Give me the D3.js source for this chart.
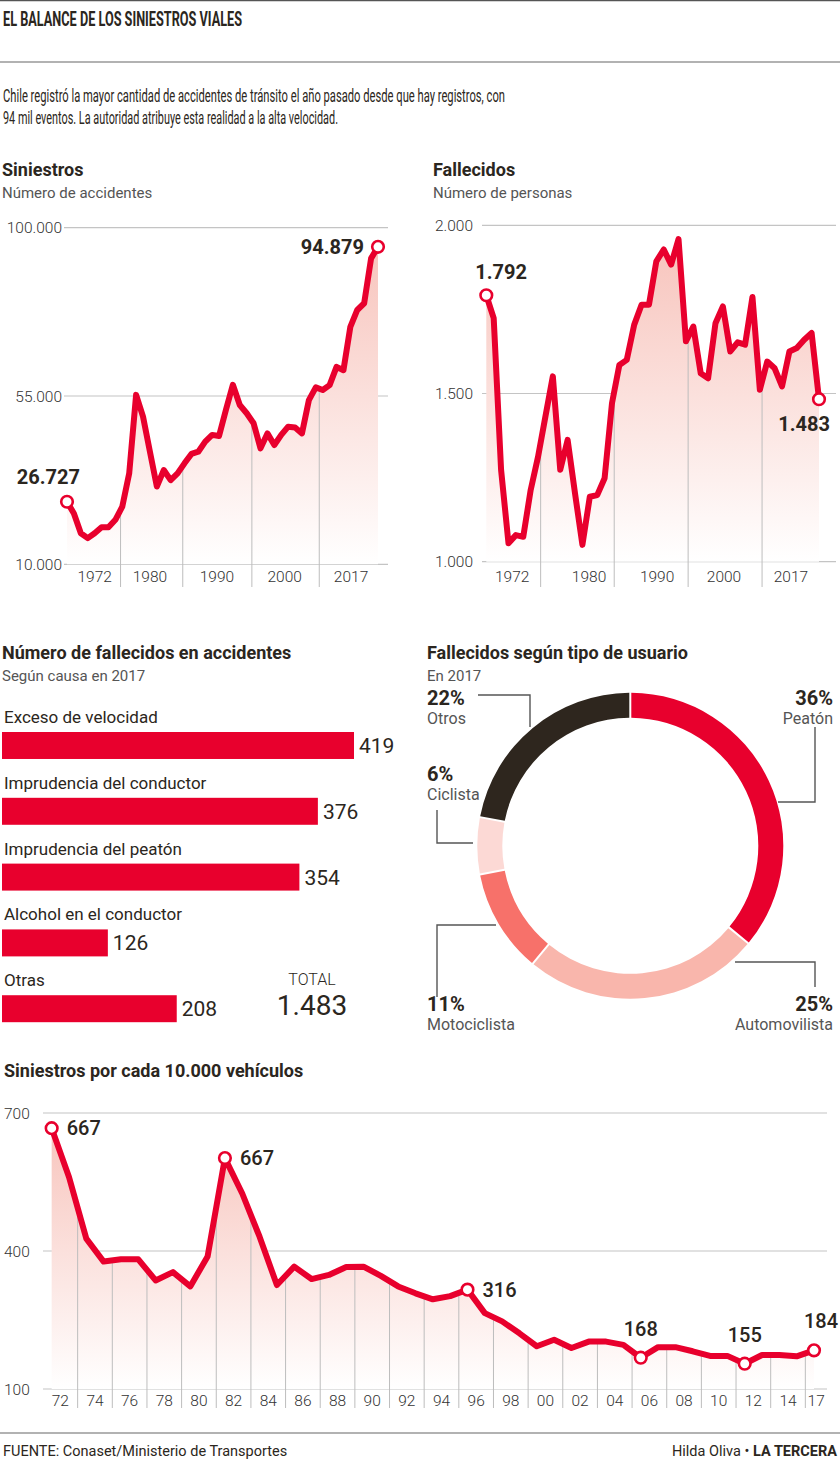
<!DOCTYPE html>
<html><head><meta charset="utf-8">
<script src="https://cdn.jsdelivr.net/npm/d3@7"></script>
<style>
body{margin:0;background:#fff;}
svg{display:block;font-family:Roboto,"Noto Sans",sans-serif;}
</style>
</head><body>
<svg id="c" width="840" height="1461"></svg>
<script>
// ---------------- DATA ----------------
const years = ["1972","1973","1974","1975","1976","1977","1978","1979","1980","1981","1982","1983","1984","1985","1986","1987","1988","1989","1990","1991","1992","1993","1994","1995","1996","1997","1998","1999","2000","2001","2002","2003","2004","2005","2006","2007","2008","2009","2010","2011","2012","2013","2014","2015","2016","2017"];
const siniestros = [26727,23600,18300,17000,18300,19900,19900,21900,25400,34300,55300,49500,40100,30800,35200,32500,34300,37000,39500,40100,42800,44600,44300,51300,58000,52600,50400,47700,41000,45000,41900,44600,46800,46600,45000,53900,57300,56600,57900,62800,61900,73500,78000,79800,91800,94879];
const fallecidos = [1792,1724,1273,1055,1079,1074,1213,1312,1432,1551,1273,1362,1203,1050,1193,1198,1248,1471,1585,1600,1704,1764,1764,1893,1928,1883,1959,1655,1699,1560,1545,1709,1759,1625,1652,1645,1787,1511,1595,1575,1521,1625,1635,1660,1680,1483];
const sinTicks = [10000,55000,100000];
const fallTicks = [1000,1500,2000];
const sinAxisLabels = ["1972","1980","1990","2000","2017"];
const sinAxisAt = [1976,1984,1993.7,2003.5,2013.1];
const sinSeparators = [1979.75,1988.75,1998.75,2008.5];
const fallAxisLabels = ["1972","1980","1990","2000","2017"];
const fallAxisAt = [1975.5,1985.9,1995.1,2004.15,2013.2];
const fallSeparators = [1979.35,1989.3,1999.3,2009.3];

const causas = ["Exceso de velocidad","Imprudencia del conductor","Imprudencia del peatón","Alcohol en el conductor","Otras"];
const causasValores = [419,376,354,126,208];
const causasTotal = "1.483";

const usuarios = ["Peatón","Automovilista","Motociclista","Ciclista","Otros"];
const usuariosPct = [36,25,11,6,22];
const usuariosColores = ["#e8002d","#f9b6ac","#f7716a","#fcd9d5","#2e261e"];

const tasaYears = ["1972","1973","1974","1975","1976","1977","1978","1979","1980","1981","1982","1983","1984","1985","1986","1987","1988","1989","1990","1991","1992","1993","1994","1995","1996","1997","1998","1999","2000","2001","2002","2003","2004","2005","2006","2007","2008","2009","2010","2011","2012","2013","2014","2015","2017"];
const tasa = [667,561,427,377,382,382,336,354,323,388,602,525,431,326,366,339,348,365,366,346,323,308,295,302,316,265,247,221,193,207,189,203,203,196,168,191,191,182,172,172,155,174,174,171,184];
const tasaTicks = [100,400,700];
const tasaAxisLabels = ["72","74","76","78","80","82","84","86","88","90","92","94","96","98","00","02","04","06","08","10","12","14","17"];
const tasaAnnot = [{y:"1972",t:"667",pos:"right"},{y:"1982",t:"667",pos:"right"},{y:"1996",t:"316",pos:"right"},{y:"2006",t:"168",pos:"top"},{y:"2012",t:"155",pos:"top"},{y:"2017",t:"184",pos:"top"}];

// ---------------- SETUP ----------------
const RED = "#e8002d", DARK = "#2b2620", GRAY = "#555", GRID = "#c4c4c4";
const svg = d3.select("#c");
svg.append("rect").attr("width",840).attr("height",1461).attr("fill","#fff");
const fmt = d3.formatLocale({decimal:",",thousands:".",grouping:[3],currency:["",""]}).format(",");
const defs = svg.append("defs");
function grad(id,y1,y2){
  const g = defs.append("linearGradient").attr("id",id).attr("gradientUnits","userSpaceOnUse")
    .attr("x1",0).attr("x2",0).attr("y1",y1).attr("y2",y2);
  g.append("stop").attr("offset",0).attr("stop-color","#f7c1b9");
  g.append("stop").attr("offset",1).attr("stop-color","#ffffff");
}

// header
svg.append("line").attr("x1",0).attr("x2",840).attr("y1",0.5).attr("y2",0.5).attr("stroke","#555").attr("stroke-width",1.5);
svg.append("text").attr("x",3).attr("y",26).attr("font-size",20).attr("font-weight",700).attr("fill",DARK)
  .attr("textLength",239).attr("lengthAdjust","spacingAndGlyphs").text("EL BALANCE DE LOS SINIESTROS VIALES");
svg.append("line").attr("x1",0).attr("x2",840).attr("y1",62).attr("y2",62).attr("stroke","#999").attr("stroke-width",1.5);
svg.append("text").attr("x",3).attr("y",102).attr("font-size",18).attr("fill",DARK)
  .attr("textLength",502).attr("lengthAdjust","spacingAndGlyphs")
  .text("Chile registró la mayor cantidad de accidentes de tránsito el año pasado desde que hay registros, con");
svg.append("text").attr("x",3).attr("y",124).attr("font-size",18).attr("fill",DARK)
  .attr("textLength",335).attr("lengthAdjust","spacingAndGlyphs")
  .text("94 mil eventos. La autoridad atribuye esta realidad a la alta velocidad.");

function sectionTitle(x,y,t,sub){
  svg.append("text").attr("x",x).attr("y",y).attr("font-size",18).attr("font-weight",700).attr("fill",DARK).text(t);
  if(sub) svg.append("text").attr("x",x).attr("y",y+22).attr("font-size",15).attr("fill",GRAY).text(sub);
}

function interp(vals, pos){
  const i = Math.max(0,Math.min(vals.length-2,Math.floor(pos)));
  const t = pos - i;
  return vals[i]*(1-t) + vals[i+1]*t;
}

// ---------------- TIME CHART ----------------
function timeChart(o){
  const g = svg.append("g");
  const x = o.x, y = o.y;
  grad(o.id, y.range()[1], y.range()[0]);
  g.selectAll(".gl").data(o.ticks).join("line")
    .attr("x1",o.gx[0]).attr("x2",o.gx[1]).attr("y1",d=>y(d)).attr("y2",d=>y(d))
    .attr("stroke",GRID).attr("stroke-width",1.2);
  g.selectAll(".tl").data(o.ticks).join("text")
    .attr("x",o.tx).attr("y",d=>y(d)).attr("dy","0.36em").attr("text-anchor",o.tAnchor||"end")
    .attr("font-size",15.5).attr("font-weight",300).attr("fill","#333").text(d=>fmt(d));
  g.append("path").datum(o.vals)
    .attr("d",d3.area().x((d,i)=>x(o.xv(i))).y0(y(y.domain()[0])).y1(d=>y(d)))
    .attr("fill",`url(#${o.id})`);
  g.selectAll(".sp").data(o.seps).join("line")
    .attr("x1",d=>x(d)).attr("x2",d=>x(d))
    .attr("y1",d=>y(interp(o.vals,o.toIdx(d)))).attr("y2",o.sepBottom)
    .attr("stroke","#bdbdbd").attr("stroke-width",1);
  g.selectAll(".xl").data(o.axisLabels).join("text")
    .attr("x",(d,i)=>x(o.axisAt[i])).attr("y",o.labelY).attr("text-anchor","middle")
    .attr("font-size",15.5).attr("font-weight",300).attr("fill","#333").text(d=>d);
  g.append("path").datum(o.vals)
    .attr("d",d3.line().x((d,i)=>x(o.xv(i))).y(d=>y(d)))
    .attr("fill","none").attr("stroke",RED).attr("stroke-width",6)
    .attr("stroke-linejoin","round").attr("stroke-linecap","round");
  return g;
}

function marker(g,cx,cy){
  g.append("circle").attr("cx",cx).attr("cy",cy).attr("r",5.8)
    .attr("fill","#fff").attr("stroke",RED).attr("stroke-width",2.6);
}

// Siniestros
sectionTitle(2,176,"Siniestros","Número de accidentes");
const xS = d3.scaleLinear().domain([+years[0], +years[years.length-1]]).range([67,378]);
const yS = d3.scaleLinear().domain([10000,100000]).range([564.3,227.7]);
const gS = timeChart({id:"gS",x:xS,y:yS,vals:siniestros,xv:i=>+years[i],toIdx:d=>d-(+years[0]),
  ticks:sinTicks,gx:[64,388],tx:62,seps:sinSeparators,sepBottom:587,axisLabels:sinAxisLabels,axisAt:sinAxisAt,labelY:582});
{
  const x0=xS(+years[0]), y0=yS(siniestros[0]);
  marker(gS,x0,y0);
  gS.append("text").attr("x",x0+13).attr("y",y0-18).attr("text-anchor","end").attr("font-size",20).attr("font-weight",700).attr("fill",DARK).text(fmt(siniestros[0]));
  const n=siniestros.length-1, x1=xS(+years[n]), y1=yS(siniestros[n]);
  marker(gS,x1,y1);
  gS.append("text").attr("x",x1-14).attr("y",y1+7).attr("text-anchor","end").attr("font-size",20).attr("font-weight",700).attr("fill",DARK).text(fmt(siniestros[n]));
}

// Fallecidos
sectionTitle(433,176,"Fallecidos","Número de personas");
const xF = d3.scaleLinear().domain([+years[0], +years[years.length-1]]).range([486.3,819]);
const yF = d3.scaleLinear().domain([1000,2000]).range([561.7,225.3]);
const gF = timeChart({id:"gF",x:xF,y:yF,vals:fallecidos,xv:i=>+years[i],toIdx:d=>d-(+years[0]),
  ticks:fallTicks,gx:[482,836],tx:473,seps:fallSeparators,sepBottom:587,axisLabels:fallAxisLabels,axisAt:fallAxisAt,labelY:582});
{
  const x0=xF(+years[0]), y0=yF(fallecidos[0]);
  marker(gF,x0,y0);
  gF.append("text").attr("x",x0-11).attr("y",y0-16).attr("font-size",20).attr("font-weight",700).attr("fill",DARK).text(fmt(fallecidos[0]));
  const n=fallecidos.length-1, x1=xF(+years[n]), y1=yF(fallecidos[n]);
  marker(gF,x1,y1);
  gF.append("text").attr("x",x1+11).attr("y",y1+32).attr("text-anchor","end").attr("font-size",20).attr("font-weight",700).attr("fill",DARK).text(fmt(fallecidos[n]));
}

// ---------------- BARS ----------------
sectionTitle(2,659,"Número de fallecidos en accidentes","Según causa en 2017");
const xB = d3.scaleLinear().domain([0,419]).range([2,354]);
const yB = d3.scaleBand().domain(causas).range([732,1022.2]).paddingInner(0.59).paddingOuter(0);
const gB = svg.append("g");
gB.selectAll("rect").data(causas).join("rect")
  .attr("x",xB(0)).attr("y",d=>yB(d)).attr("width",(d,i)=>xB(causasValores[i])-xB(0)).attr("height",yB.bandwidth())
  .attr("fill",RED);
gB.selectAll(".cl").data(causas).join("text")
  .attr("x",4).attr("y",d=>yB(d)-9).attr("font-size",17).attr("fill",DARK).text(d=>d);
gB.selectAll(".vl").data(causas).join("text")
  .attr("x",(d,i)=>xB(causasValores[i])+5).attr("y",d=>yB(d)+yB.bandwidth()/2).attr("dy","0.36em")
  .attr("font-size",21).attr("fill",DARK).text((d,i)=>causasValores[i]);
svg.append("text").attr("x",312).attr("y",985).attr("text-anchor","middle").attr("font-size",16).attr("font-weight",300).attr("fill",DARK).text("TOTAL");
svg.append("text").attr("x",312).attr("y",1015).attr("text-anchor","middle").attr("font-size",28).attr("fill",DARK).text(causasTotal);

// ---------------- DONUT ----------------
sectionTitle(427,659,"Fallecidos según tipo de usuario","En 2017");
const cx=630.3, cy=845.8;
const pie = d3.pie().sort(null).value(d=>d).startAngle(0).endAngle(2*Math.PI);
const arc = d3.arc().innerRadius(128).outerRadius(153).padAngle(0.01);
const gD = svg.append("g").attr("transform",`translate(${cx},${cy})`);
gD.selectAll("path").data(pie(usuariosPct)).join("path").attr("d",arc).attr("fill",(d,i)=>usuariosColores[i]);
const donutLab = [
  {x:833,a:"end",y:705, lead:[[815,727],[815,802],[778,802]]},
  {x:833,a:"end",y:1011, lead:[[815,987],[815,962],[735,962]]},
  {x:427,a:"start",y:1011, lead:[[437,997],[437,925],[496,925]]},
  {x:427,a:"start",y:781, lead:[[437,810],[437,843],[473,843]]},
  {x:427,a:"start",y:705, lead:[[478,695],[530,695],[530,727]]}
];
usuarios.forEach((u,i)=>{
  const L = donutLab[i];
  svg.append("text").attr("x",L.x).attr("y",L.y).attr("text-anchor",L.a).attr("font-size",20).attr("font-weight",700).attr("fill",DARK).text(usuariosPct[i]+"%");
  svg.append("text").attr("x",L.x).attr("y",L.y+19).attr("text-anchor",L.a).attr("font-size",16).attr("fill",GRAY).text(u);
  svg.append("path").attr("d",d3.line()(L.lead)).attr("fill","none").attr("stroke","#555").attr("stroke-width",1.4);
});

// ---------------- RATE CHART ----------------
sectionTitle(4,1077,"Siniestros por cada 10.000 vehículos",null);
const xR = d3.scaleLinear().domain([-0.5, tasa.length-0.25]).range([43,827]);
const yR = d3.scaleLinear().domain([100,700]).range([1389,1113]);
const rSeps = d3.range(1.5, tasa.length-1, 2);
const rBounds = [-0.5, ...rSeps, tasa.length-0.25];
const rAt = tasaAxisLabels.map((d,i)=>(rBounds[i]+rBounds[i+1])/2);
const gR = timeChart({id:"gR",x:xR,y:yR,vals:tasa,xv:i=>i,toIdx:d=>d,
  ticks:tasaTicks,gx:[43,827],tx:4,tAnchor:"start",seps:rSeps,sepBottom:1408,axisLabels:tasaAxisLabels,axisAt:rAt,labelY:1406});
tasaAnnot.forEach(a=>{
  const i = tasaYears.indexOf(a.y);
  const px=xR(i), py=yR(tasa[i]);
  marker(gR,px,py);
  const t = gR.append("text").attr("font-size",20).attr("font-weight",500).attr("fill",DARK).text(a.t);
  if(a.pos==="right") t.attr("x",px+15).attr("y",py).attr("dy","0.36em");
  else t.attr("x",px+(a.y==="2017"?7:0)).attr("y",py-22).attr("text-anchor","middle");
});

// ---------------- FOOTER ----------------
svg.append("line").attr("x1",0).attr("x2",840).attr("y1",1433).attr("y2",1433).attr("stroke","#999").attr("stroke-width",1.5);
svg.append("text").attr("x",3).attr("y",1456).attr("font-size",14.5).attr("fill",DARK).text("FUENTE: Conaset/Ministerio de Transportes");
const cr = svg.append("text").attr("x",837).attr("y",1456).attr("text-anchor","end").attr("font-size",14.5).attr("fill",DARK);
cr.append("tspan").text("Hilda Oliva • ");
cr.append("tspan").attr("font-weight",700).text("LA TERCERA");
</script>
</body></html>
